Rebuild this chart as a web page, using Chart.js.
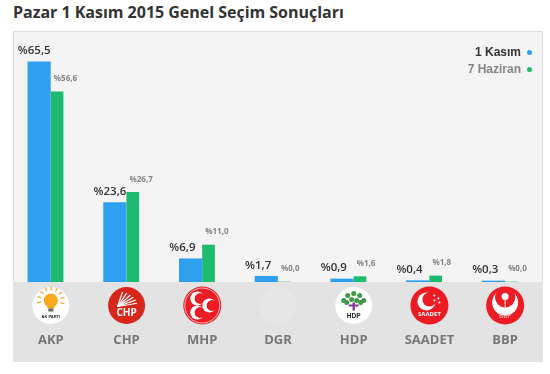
<!DOCTYPE html>
<html lang="tr">
<head>
<meta charset="utf-8">
<title>Genel Seçim Sonuçları</title>
<script src="https://cdn.jsdelivr.net/npm/chart.js@4/dist/chart.umd.min.js"></script>
<style>
  html, body { margin: 0; padding: 0; background: #fff; }
  body { width: 550px; height: 374px; position: relative; overflow: hidden; }
  #title { position: absolute; left: 13px; top: 0; margin: 0; font: 700 16px/24px "Open Sans", sans-serif; color: #333; white-space: nowrap; letter-spacing: -0.02px; }
  #panel { position: absolute; left: 13px; top: 31px; width: 530px; height: 331px; box-sizing: border-box; background: #f4f4f4; border: 1px solid #dedede; border-bottom: 0; }
  #band { position: absolute; left: 13px; top: 282px; width: 530px; height: 80px; background: #e3e3e3; }
  #chart { position: absolute; left: 0; top: 0; }
  #legend { position: absolute; right: 19px; top: 44px; font: 700 12px/17px "Liberation Sans", Arial, sans-serif; text-align: right; }
  #legend i { display: inline-block; width: 5px; height: 5px; border-radius: 50%; margin-left: 6px; margin-right: -1px; vertical-align: 1px; }
</style>
</head>
<body>
<h2 id="title">Pazar 1 Kasım 2015 Genel Seçim Sonuçları</h2>
<div id="panel"></div>
<div id="band"></div>
<canvas id="chart" width="550" height="374"></canvas>
<div id="legend"></div>
<script>
// --- DATOS ---
const parties = ['AKP', 'CHP', 'MHP', 'DGR', 'HDP', 'SAADET', 'BBP'];
const kasimValues = [65.5, 23.6, 6.9, 1.7, 0.9, 0.4, 0.3];
const haziranValues = [56.6, 26.7, 11.0, 0.0, 1.6, 1.8, 0.0];
const seriesNames = ['1 Kasım', '7 Haziran'];

const BLUE = '#2f9fef';
const GREEN = '#1dba70';
const RED = '#ed1c24';

const formatValue = (v) => '%' + v.toFixed(1).replace('.', ',');

// Leyenda en HTML
document.querySelector('#legend').innerHTML = `
  <div style="color:#333">${seriesNames[0]}<i style="background:${BLUE}"></i></div>
  <div style="color:#858585">${seriesNames[1]}<i style="background:${GREEN}"></i></div>`;

const circle = (ctx, x, y, r, color) => {
  ctx.fillStyle = color;
  ctx.beginPath();
  ctx.arc(x, y, r, 0, Math.PI * 2);
  ctx.fill();
};

const crescent = (ctx, x, y, r, angle, color, bg) => {
  circle(ctx, x, y, r, color);
  circle(ctx, x + Math.cos(angle) * r * 0.4, y + Math.sin(angle) * r * 0.4, r * 0.78, bg);
};

const logoText = (ctx, text, x, y, font, color) => {
  ctx.font = font;
  ctx.fillStyle = color;
  ctx.textAlign = 'center';
  ctx.textBaseline = 'middle';
  ctx.fillText(text, x, y);
};

// Logos de cada partido, dibujados a mano
const logos = {
  AKP(ctx, x, y) {
    circle(ctx, x, y, 18.5, '#fff');
    ctx.strokeStyle = '#f6b042';
    ctx.lineWidth = 1.4;
    for (let i = 0; i < 9; i++) {
      const a = Math.PI * (0.95 + i * 0.14);
      ctx.beginPath();
      ctx.moveTo(x + Math.cos(a) * 10, y - 5 + Math.sin(a) * 10);
      ctx.lineTo(x + Math.cos(a) * 14, y - 5 + Math.sin(a) * 14);
      ctx.stroke();
    }
    circle(ctx, x, y - 5, 7, '#f7a81b');
    ctx.fillStyle = '#f7a81b';
    ctx.fillRect(x - 3.5, y - 1, 7, 4);
    ctx.fillStyle = '#666';
    ctx.fillRect(x - 2.5, y + 3, 5, 3);
    logoText(ctx, 'AK PARTİ', x, y + 11, '700 4px "Liberation Sans"', '#222');
  },
  CHP(ctx, x, y) {
    circle(ctx, x, y, 18.5, '#d9261c');
    ctx.strokeStyle = '#fff';
    ctx.lineWidth = 1.2;
    for (let i = 0; i < 6; i++) {
      const a = -Math.PI * (0.42 - i * 0.07);
      ctx.beginPath();
      ctx.moveTo(x - 9, y + 1);
      ctx.lineTo(x - 9 + Math.cos(a) * 20, y + 1 + Math.sin(a) * 15);
      ctx.stroke();
    }
    logoText(ctx, 'CHP', x, y + 8, '700 10px "Open Sans"', '#fff');
  },
  MHP(ctx, x, y) {
    circle(ctx, x, y, 19, RED);
    ctx.strokeStyle = '#fff';
    ctx.lineWidth = 0.7;
    ctx.beginPath();
    ctx.arc(x, y, 17.5, 0, Math.PI * 2);
    ctx.stroke();
    crescent(ctx, x - 5, y - 7, 7, 0, '#fff', RED);
    crescent(ctx, x - 5, y + 7, 7, 0, '#fff', RED);
    crescent(ctx, x + 7, y, 7, 0, '#fff', RED);
  },
  DGR(ctx, x, y) {
    circle(ctx, x, y, 18.5, '#e7e7e7');
  },
  HDP(ctx, x, y) {
    circle(ctx, x, y, 18.5, '#fff');
    [[-10, -5], [-6, -10], [0, -12], [6, -10], [10, -5], [-7, -3], [7, -3], [-2, -6], [3, -5]].forEach(([dx, dy]) => {
      circle(ctx, x + dx, y + dy, 2.5, '#3f9a47');
    });
    ctx.fillStyle = '#8e3a94';
    ctx.fillRect(x - 1.2, y - 3, 2.4, 8);
    ctx.fillRect(x - 5, y - 1, 10, 2);
    logoText(ctx, 'HDP', x, y + 11, '700 6.5px "Liberation Sans"', '#222');
  },
  SAADET(ctx, x, y) {
    circle(ctx, x, y, 19, RED);
    crescent(ctx, x - 3, y - 4, 9, -0.6, '#fff', RED);
    [[5, -10], [9, -7], [5, -5], [10, -3]].forEach(([dx, dy]) => circle(ctx, x + dx, y + dy, 1, '#fff'));
    logoText(ctx, 'SAADET', x, y + 9, '700 6px "Open Sans"', '#fff');
  },
  BBP(ctx, x, y) {
    circle(ctx, x, y, 19, RED);
    crescent(ctx, x, y - 3, 13, -1.57, '#fff', RED);
    circle(ctx, x, y - 9, 3.5, '#fff');
    ctx.strokeStyle = '#fff';
    ctx.lineWidth = 1;
    ctx.beginPath();
    ctx.moveTo(x, y - 6);
    ctx.lineTo(x, y + 2);
    ctx.stroke();
    logoText(ctx, 'BBP', x, y + 11, '400 6.5px "Open Sans"', '#ffd5d5');
  }
};

// Etiquetas de valores y logos
const labelsPlugin = {
  id: 'labelsPlugin',
  afterDatasetsDraw(chart) {
    const { ctx, scales } = chart;
    ctx.save();
    parties.forEach((party, i) => {
      const cx = scales.x.getPixelForValue(i);
      ctx.textAlign = 'left';
      ctx.textBaseline = 'middle';
      ctx.font = '600 11.5px "Open Sans"';
      ctx.fillStyle = '#333';
      ctx.fillText(formatValue(kasimValues[i]), cx - 33, scales.y.getPixelForValue(kasimValues[i]) - 11);
      ctx.font = '700 8px "Open Sans"';
      ctx.fillStyle = '#858585';
      ctx.fillText(formatValue(haziranValues[i]), cx + 3, scales.y.getPixelForValue(haziranValues[i]) - 13);
      logos[party](ctx, cx, 305.5);
    });
    ctx.restore();
  }
};

new Chart(document.querySelector('#chart'), {
  type: 'bar',
  data: {
    datasets: [
      {
        label: seriesNames[0],
        data: kasimValues.map((v, i) => ({ x: i - 0.155, y: v })),
        backgroundColor: BLUE,
        barThickness: 22.5,
        grouped: false
      },
      {
        label: seriesNames[1],
        data: haziranValues.map((v, i) => ({ x: i + 0.082, y: v })),
        backgroundColor: GREEN,
        barThickness: 12,
        grouped: false
      }
    ]
  },
  options: {
    responsive: false,
    animation: false,
    layout: { padding: { left: 13, right: 7, top: 31, bottom: 12 } },
    plugins: { legend: { display: false }, tooltip: { enabled: false } },
    scales: {
      x: {
        type: 'linear',
        offset: false, // el tipo bar lo activa por defecto
        min: -0.5,
        max: 6.5,
        // tickLength baja las etiquetas sin recortar el ancho del eje
        grid: { display: false, tickLength: 50 },
        border: { display: false },
        afterBuildTicks: (scale) => { scale.ticks = parties.map((p, i) => ({ value: i })); },
        afterFit: (scale) => { scale.height = 80; },
        ticks: {
          autoSkip: false,
          maxRotation: 0,
          padding: 0,
          color: '#777',
          font: { family: '"Open Sans"', size: 13, weight: '700' },
          callback: (value) => parties[value]
        }
      },
      y: {
        display: false,
        min: 0,
        max: 74.7
      }
    }
  },
  plugins: [labelsPlugin]
});
</script>
</body>
</html>
